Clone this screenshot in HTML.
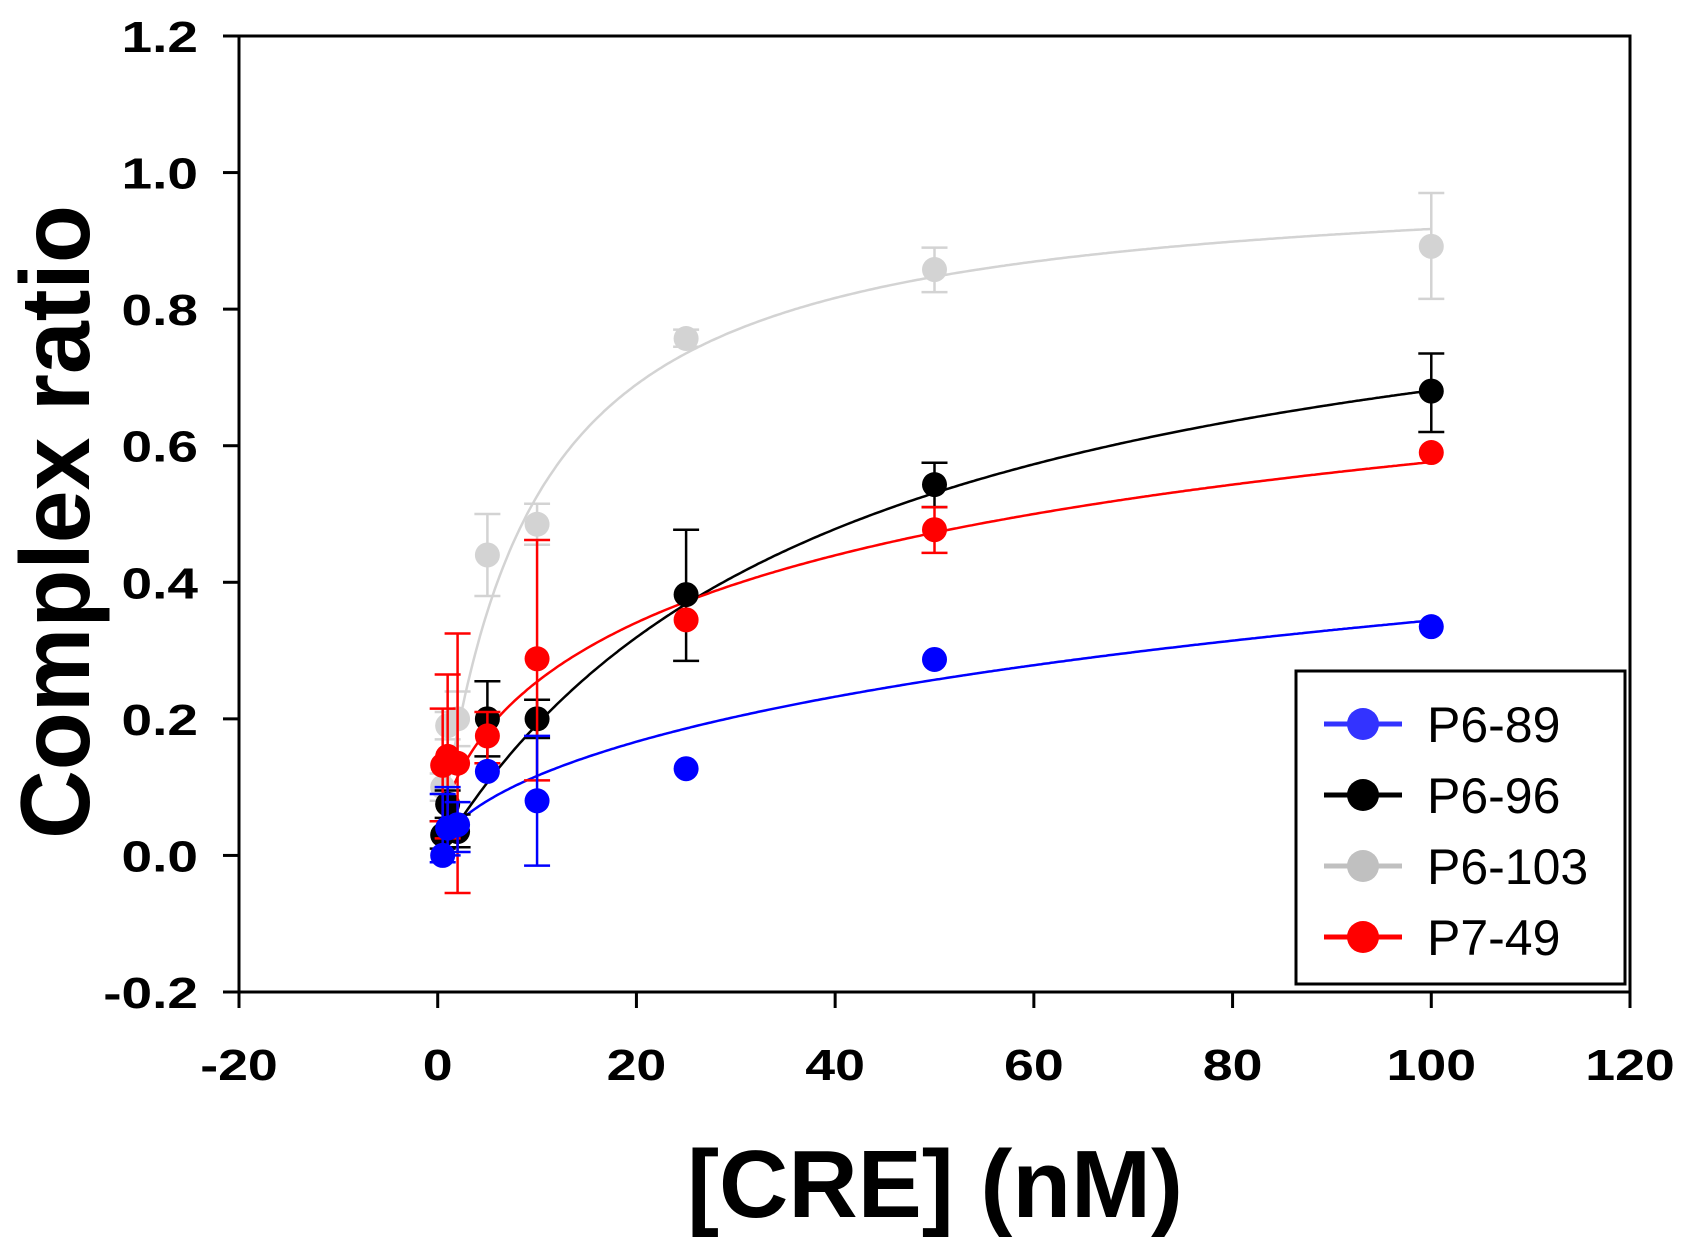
<!DOCTYPE html>
<html><head><meta charset="utf-8"><style>
html,body{margin:0;padding:0;background:#fff;}
svg{display:block;}
text{font-family:"Liberation Sans",Arial,sans-serif;}
</style></head><body>
<svg id="chart" width="1687" height="1237" viewBox="0 0 1687 1237" xmlns="http://www.w3.org/2000/svg">
<g id="plot"></g>
<g id="axes"></g>
<text transform="translate(89,522) rotate(-90) scale(0.97,1)" text-anchor="middle" font-size="98" font-weight="bold">Complex ratio</text>
<text x="935" y="1217" text-anchor="middle" font-size="96" font-weight="bold">[CRE] (nM)</text>
<g id="legend"></g>
</svg>
<script>
const xTicks=[-20,0,20,40,60,80,100,120];
const yTicks=[-0.2,0.0,0.2,0.4,0.6,0.8,1.0,1.2];
const seriesNames=["P6-89","P6-96","P6-103","P7-49"];
const conc=[0.5,1,2,5,10,25,50,100];
const p689=[0.0,0.04,0.045,0.123,0.08,0.127,0.287,0.335];
const p689Lo=[-0.01,0.0,0.005,0.123,-0.015,0.127,0.287,0.335];
const p689Hi=[0.09,0.1,0.078,0.123,0.175,0.127,0.287,0.335];
const p696=[0.03,0.075,0.035,0.2,0.2,0.382,0.543,0.68];
const p696Lo=[0.01,0.055,0.012,0.145,0.172,0.285,0.51,0.62];
const p696Hi=[0.05,0.095,0.06,0.255,0.228,0.477,0.575,0.735];
const p6103=[0.1,0.19,0.2,0.44,0.485,0.757,0.858,0.892];
const p6103Lo=[0.08,0.17,0.16,0.38,0.455,0.745,0.825,0.815];
const p6103Hi=[0.12,0.21,0.24,0.5,0.515,0.77,0.89,0.97];
const p749=[0.132,0.145,0.135,0.175,0.288,0.345,0.477,0.59];
const p749Lo=[0.05,0.025,-0.055,0.135,0.11,0.345,0.443,0.59];
const p749Hi=[0.215,0.265,0.325,0.21,0.462,0.345,0.51,0.59];
const fitBmax=[1.0,0.95,1.0,1.0];
const fitKd=[293,39.5,9,60];
const fitHill=[0.6,1,1,0.6];
const colors=["#0000ff","#000000","#d3d3d3","#ff0000"];
const legendColors=["#3333ff","#000000","#c0c0c0","#ff0000"];

const X0=239,X1=1630,Y0=992,Y1=36;
const sx=v=>X0+(v-(-20))/(140)*(X1-X0);
const sy=v=>Y0-(v-(-0.2))/(1.4)*(Y0-Y1);
const NS="http://www.w3.org/2000/svg";
function mk(tag,attrs,parent){const e=document.createElementNS(NS,tag);for(const k in attrs)e.setAttribute(k,attrs[k]);parent.appendChild(e);return e;}
const plot=document.getElementById('plot'),axes=document.getElementById('axes'),legend=document.getElementById('legend');

let fr=mk('rect',{x:X0,y:Y1,width:X1-X0,height:Y0-Y1,fill:'none',stroke:'#000','stroke-width':3},axes);


xTicks.forEach(t=>{
  const l=mk('line',{x1:sx(t),x2:sx(t),y1:Y0,y2:Y0+16,stroke:'#000','stroke-width':3},axes);
  
  
  const tx=mk('text',{transform:'translate('+sx(t)+',1080) scale(1.22,1)','text-anchor':'middle','font-size':44,'font-weight':'bold'},axes);
  tx.textContent=String(t);
  
  
});
yTicks.forEach(t=>{
  const l=mk('line',{x1:X0-16,x2:X0,y1:sy(t),y2:sy(t),stroke:'#000','stroke-width':3},axes);
  
  
  const tx=mk('text',{transform:'translate(198,'+(sy(t)+16)+') scale(1.25,1)','text-anchor':'end','font-size':44,'font-weight':'bold'},axes);
  tx.textContent=t.toFixed(1);
  
  
});

const series=[[p689,p689Lo,p689Hi],[p696,p696Lo,p696Hi],[p6103,p6103Lo,p6103Hi],[p749,p749Lo,p749Hi]];
const order=[2,1,3,0];
order.forEach(i=>{
  let d='';
  for(let k=0;k<=400;k++){
    const x=k/4;
    const xn=Math.pow(x,fitHill[i]);
    const y=fitBmax[i]*xn/(Math.pow(fitKd[i],fitHill[i])+xn);
    d+=(k?'L':'M')+sx(x).toFixed(1)+','+sy(y).toFixed(1);
  }
  const p=mk('path',{d:d,fill:'none',stroke:colors[i],'stroke-width':2.5},plot);
  
  
});
order.forEach(i=>{
  const [v,lo,hi]=series[i];
  conc.forEach((c,j)=>{
    if(hi[j]-lo[j]>0.001){
      const g=mk('g',{stroke:colors[i],'stroke-width':2.5},plot);
      
      
      mk('line',{x1:sx(c),x2:sx(c),y1:sy(lo[j]),y2:sy(hi[j])},g);
      mk('line',{x1:sx(c)-13,x2:sx(c)+13,y1:sy(lo[j]),y2:sy(lo[j])},g);
      mk('line',{x1:sx(c)-13,x2:sx(c)+13,y1:sy(hi[j]),y2:sy(hi[j])},g);
    }
  });
  conc.forEach((c,j)=>{
    const pt=mk('circle',{cx:sx(c),cy:sy(v[j]),r:12.5,fill:colors[i]},plot);
    
    
  });
});
const lb=mk('rect',{x:1296,y:671,width:329,height:313,fill:'#fff',stroke:'#000','stroke-width':3},legend);


seriesNames.forEach((n,i)=>{
  const y=724+i*71;
  const g=mk('g',{},legend);
  
  
  mk('line',{x1:1324,x2:1402,y1:y,y2:y,stroke:legendColors[i],'stroke-width':5},g);
  mk('circle',{cx:1363,cy:y,r:16,fill:legendColors[i]},g);
  const t=mk('text',{x:1427,y:y+18,'font-size':50},g);
  t.textContent=n;
});
</script>
</body></html>
